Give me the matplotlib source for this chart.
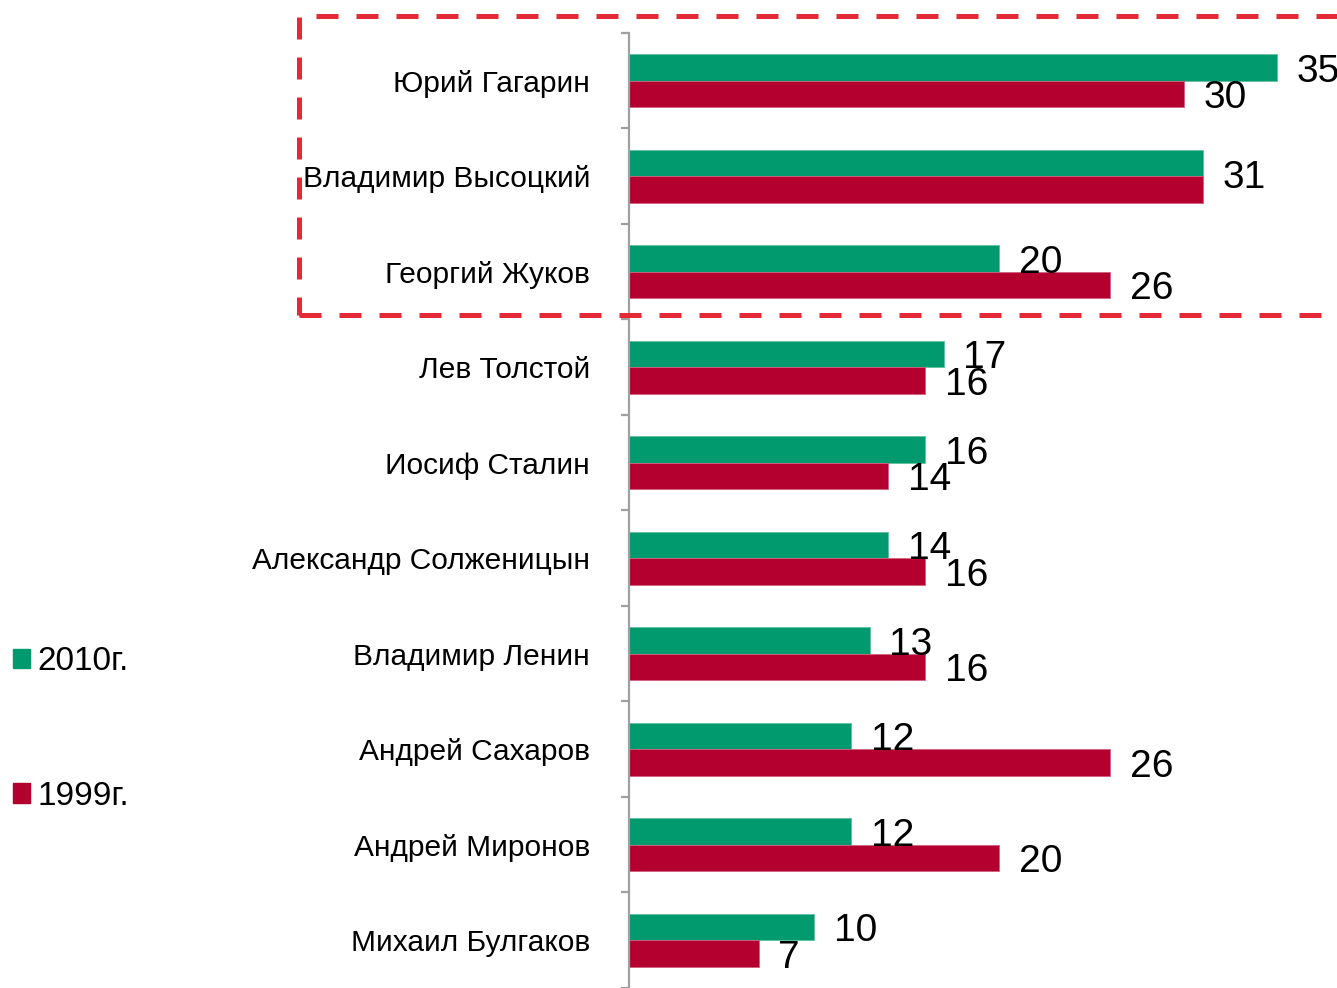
import numpy as np
import matplotlib
matplotlib.use('Agg')
import matplotlib.pyplot as plt
from matplotlib.patches import Rectangle, Patch

# Data
names = ['Юрий Гагарин', 'Владимир Высоцкий', 'Георгий Жуков', 'Лев Толстой',
         'Иосиф Сталин', 'Александр Солженицын', 'Владимир Ленин',
         'Андрей Сахаров', 'Андрей Миронов', 'Михаил Булгаков']
v2010 = [35, 31, 20, 17, 16, 14, 13, 12, 12, 10]
v1999 = [30, 31, 26, 16, 14, 16, 16, 26, 20, 7]
series_labels = ['2010г.', '1999г.']

green = '#009A6E'
red = '#B4002F'
plt.rcParams['font.family'] = ['Liberation Sans', 'DejaVu Sans']

fig = plt.figure(figsize=(13.37, 9.88), dpi=100)
ax = fig.add_axes([629 / 1337, 0.0, 1 - 629 / 1337, 1 - 33 / 988])

y = np.arange(len(names))
h = 0.28
ax.barh(y - h / 2, v2010, height=h, color=green, edgecolor='#5fbf9f', linewidth=0.6)
ax.barh(y + h / 2, v1999, height=h, color=red, edgecolor='#d06080', linewidth=0.6)

fs = 28
for i in range(len(names)):
    # equal values -> one label in the middle of the group
    if v2010[i] == v1999[i]:
        ax.annotate(str(v2010[i]), (v2010[i], y[i]), xytext=(14, -1),
                    textcoords='offset points', va='center', ha='left', fontsize=fs)
        continue
    ax.annotate(str(v2010[i]), (v2010[i], y[i] - h / 2), xytext=(14, -3),
                textcoords='offset points', va='center', ha='left', fontsize=fs)
    ax.annotate(str(v1999[i]), (v1999[i], y[i] + h / 2), xytext=(14, -3),
                textcoords='offset points', va='center', ha='left', fontsize=fs)

ax.set_xlim(0, (1337 - 629) / 18.51)
ax.set_ylim(len(names) - 0.5, -0.5)
for s in ['top', 'right', 'bottom']:
    ax.spines[s].set_visible(False)
ax.spines['left'].set_color('#a0a0a0')
ax.spines['left'].set_linewidth(1.6)
ax.set_xticks([])
ax.set_yticks(y)
ax.set_yticklabels(names, fontsize=21.5)
ax.tick_params(axis='y', which='major', length=0, pad=28)
ax.set_yticks(np.arange(-0.5, len(names), 1), minor=True)
ax.tick_params(axis='y', which='minor', length=6, width=1.6, color='#a0a0a0')

# dashed highlight box
box = Rectangle((299 / 1337, 1 - 315 / 988), 1.2, (315 - 16) / 988,
                transform=fig.transFigure, fill=False, edgecolor='#E32A36',
                linewidth=3.6, linestyle=(0, (4.4, 3.6)), clip_on=False)
fig.add_artist(box)

handles = [Patch(color=green), Patch(color=red)]
fig.legend(handles, series_labels, loc='center left',
           bbox_to_anchor=(13 / 1337, 1 - 729 / 988), frameon=False,
           fontsize=24, handlelength=0.52, handleheight=0.52, handletextpad=0.2,
           labelspacing=3.1, borderpad=0, borderaxespad=0)

fig.savefig('out.png', dpi=100)
